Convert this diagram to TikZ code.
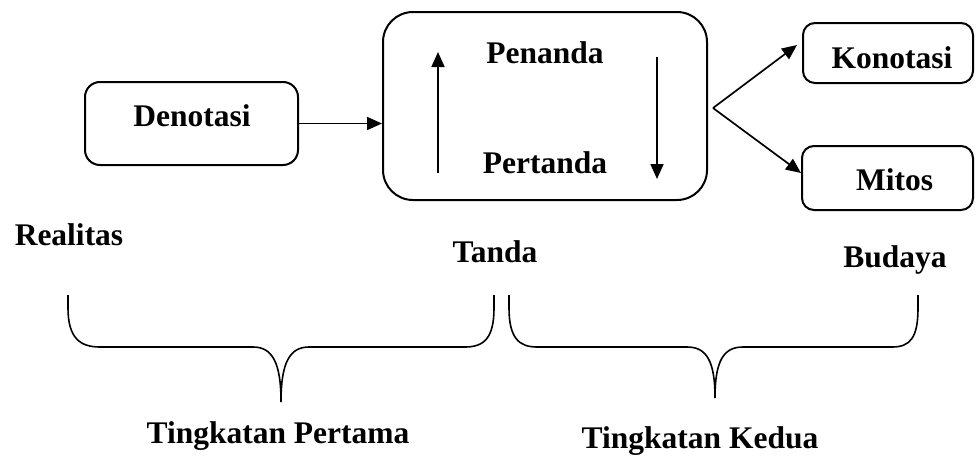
\documentclass[tikz,border=0pt]{standalone}
\usepackage{fontspec}
\setmainfont{Liberation Serif}
\usetikzlibrary{arrows.meta}
\begin{document}
\begin{tikzpicture}[x=1pt,y=-1pt,
  box/.style={draw,line width=2pt,minimum width=#1,inner sep=0pt},
  lbl/.style={anchor=base,inner sep=0pt,font=\bfseries\fontsize{31.5}{36}\selectfont},
  arr/.style={line width=1.7pt,-{Triangle[length=15pt,width=13pt]}},
  brace/.style={line width=1.6pt}]
\useasboundingbox (0,0) rectangle (976,455);
% boxes
\node[box=213pt,minimum height=83pt,rounded corners=15pt] (dn) at (191.5,123.5) {};
\node[box=324pt,minimum height=188pt,rounded corners=30pt] (big) at (545,106) {};
\node[box=170pt,minimum height=60pt,rounded corners=12pt] (kon) at (888,53) {};
\node[box=171pt,minimum height=64pt,rounded corners=12pt] (mit) at (887.5,178) {};
% texts
\node[lbl] (tdn) at (192,126) {Denotasi};
\node[lbl] (tpe) at (545,63) {Penanda};
\node[lbl] (tpt) at (545,173) {Pertanda};
\node[lbl] (tko) at (892,68) {Konotasi};
\node[lbl] (tmi) at (894.5,190) {Mitos};
\node[lbl] (real) at (69,245) {Realitas};
\node[lbl] (tanda) at (495,262) {Tanda};
\node[lbl] (bud) at (895,267) {Budaya};
\node[lbl] (t1) at (278,443) {Tingkatan Pertama};
\node[lbl] (t2) at (700,448) {Tingkatan Kedua};
% connectors
\draw[arr] (dn.east) -- (dn.east -| big.west);
\coordinate (u1) at (438,173);
\coordinate (u2) at (438,52);
\coordinate (d1) at (657,57);
\coordinate (d2) at (657,179);
\draw[arr] (u1) -- (u2);
\draw[arr] (d1) -- (d2);
\coordinate (fork) at (713,108);
\draw[arr] (fork) -- ([xshift=-5pt,yshift=8pt]kon.west);
\draw[arr] (fork) -- ([yshift=5pt]mit.west);
% braces
\draw[brace] (68,295) -- (68,308) .. controls (68,338) and (80,347) .. (100,347)
  -- (253,347) .. controls (272,347) and (281,362) .. (281,402)
  .. controls (281,362) and (290,347) .. (309,347)
  -- (465,347) .. controls (484,347) and (494,338) .. (494,308) -- (494,295);
\draw[brace] (509,295) -- (509,308) .. controls (509,338) and (519,347) .. (537,347)
  -- (687,347) .. controls (706,347) and (715,360) .. (715,398)
  .. controls (715,360) and (724,347) .. (743,347)
  -- (892,347) .. controls (910,347) and (918,338) .. (918,308) -- (918,295);
\end{tikzpicture}
\end{document}
